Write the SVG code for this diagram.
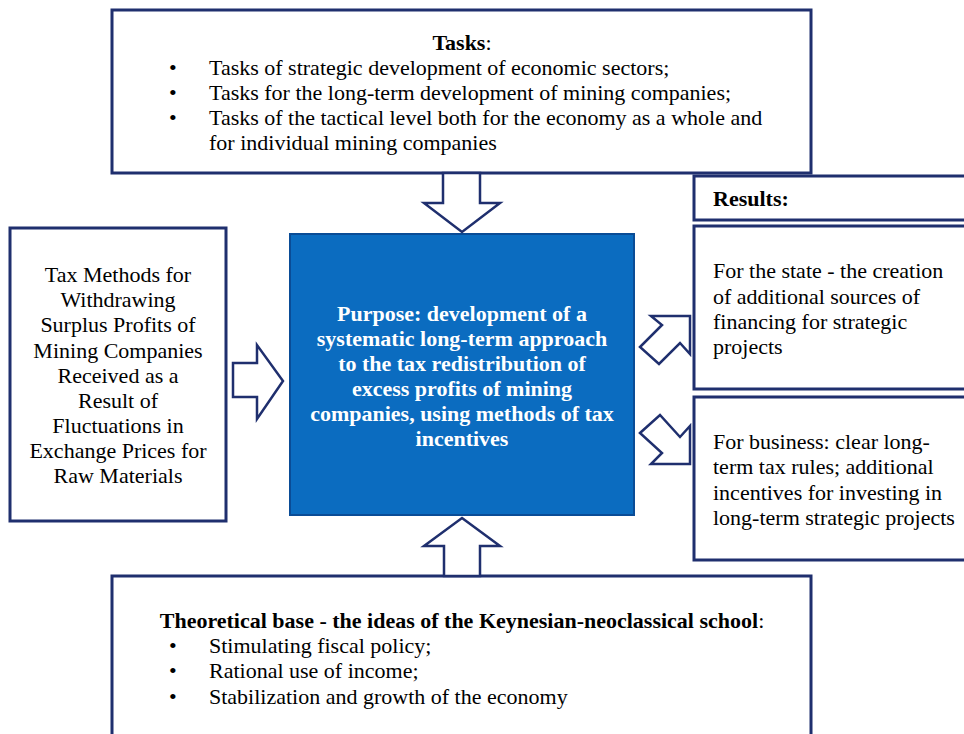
<svg xmlns="http://www.w3.org/2000/svg" width="964" height="734" viewBox="0 0 964 734">
<style>
.box{fill:#fff;stroke:#1f2f6e;stroke-width:3}
.center{fill:#0b6cc0;stroke:#0a4c96;stroke-width:2}
.arr{fill:#fff;stroke:#1f2f6e;stroke-width:2.5;stroke-linejoin:miter}
text{font-family:"Liberation Serif","Times New Roman",serif;font-size:22px;fill:#000}
.b{font-weight:bold}
.w{fill:#fff;font-weight:bold}
.m{text-anchor:middle}
</style>
<rect width="964" height="734" fill="#fff"/>
<g id="tasks">
<rect class="box" x="112" y="10" width="699" height="163"/>
<text class="m" x="462" y="50"><tspan class="b">Tasks</tspan>:</text>
<text x="169" y="75">•</text><text x="209" y="75">Tasks of strategic development of economic sectors;</text>
<text x="169" y="100">•</text><text x="209" y="100">Tasks for the long-term development of mining companies;</text>
<text x="169" y="125">•</text><text x="209" y="125">Tasks of the tactical level both for the economy as a whole and</text>
<text x="209" y="150">for individual mining companies</text>
</g>
<g id="methods">
<rect class="box" x="10" y="228" width="216" height="293"/>
<text class="m" x="118" y="282">Tax Methods for</text>
<text class="m" x="118" y="307">Withdrawing</text>
<text class="m" x="118" y="332">Surplus Profits of</text>
<text class="m" x="118" y="358">Mining Companies</text>
<text class="m" x="118" y="383">Received as a</text>
<text class="m" x="118" y="408">Result of</text>
<text class="m" x="118" y="433">Fluctuations in</text>
<text class="m" x="118" y="458">Exchange Prices for</text>
<text class="m" x="118" y="483">Raw Materials</text>
</g>
<g id="purpose">
<rect class="center" x="290" y="234" width="344" height="281"/>
<text class="w m" x="462" y="321">Purpose: development of a</text>
<text class="w m" x="462" y="346">systematic long-term approach</text>
<text class="w m" x="462" y="371">to the tax redistribution of</text>
<text class="w m" x="462" y="396">excess profits of mining</text>
<text class="w m" x="462" y="421">companies, using methods of tax</text>
<text class="w m" x="462" y="446">incentives</text>
</g>
<g id="results">
<rect class="box" x="694" y="176" width="280" height="44"/>
<text class="b" x="713" y="206">Results:</text>
</g>
<g id="state">
<rect class="box" x="694" y="226" width="280" height="163"/>
<text x="713" y="278">For the state - the creation</text>
<text x="713" y="304">of additional sources of</text>
<text x="713" y="329">financing for strategic</text>
<text x="713" y="354">projects</text>
</g>
<g id="business">
<rect class="box" x="694" y="397" width="280" height="163"/>
<text x="713" y="449">For business: clear long-</text>
<text x="713" y="474">term tax rules; additional</text>
<text x="713" y="500">incentives for investing in</text>
<text x="713" y="525">long-term strategic projects</text>
</g>
<g id="theory">
<rect class="box" x="112" y="576" width="699" height="170"/>
<text class="m" x="462" y="628"><tspan class="b">Theoretical base - the ideas of the Keynesian-neoclassical school</tspan>:</text>
<text x="169" y="653">•</text><text x="209" y="653">Stimulating fiscal policy;</text>
<text x="169" y="678">•</text><text x="209" y="678">Rational use of income;</text>
<text x="169" y="704">•</text><text x="209" y="704">Stabilization and growth of the economy</text>
</g>
<g id="connectors">
<polygon class="arr" points="443,173 480,173 480,203 500,203 462,232 424,203 443,203"/>
<polygon class="arr" points="462,518 500,546 480,546 480,576 444,576 444,546 424,546"/>
<polygon class="arr" points="233,363 257,363 257,345 283,381 257,419 257,397 233,397"/>
<polygon class="arr" points="651,316 690,316 690,354 680,343 659,364 640,347 662,325"/>
<polygon class="arr" points="640,433 660,415 680,437 690,426 690,464 651,464 662,453"/>
</g>
</svg>
